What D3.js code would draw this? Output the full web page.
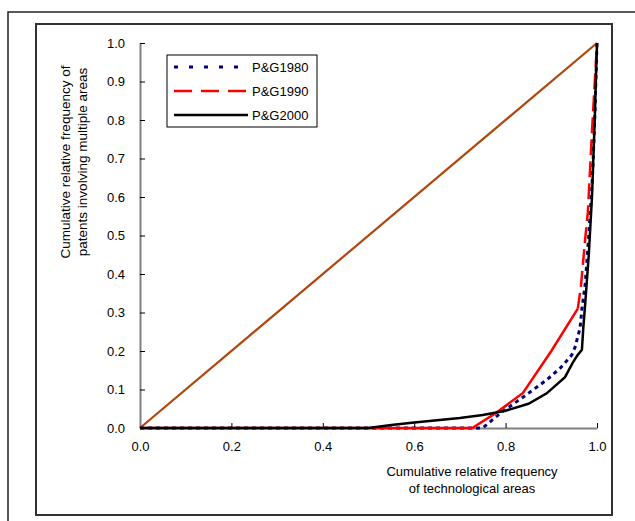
<!DOCTYPE html>
<html><head><meta charset="utf-8">
<script src="https://cdn.jsdelivr.net/npm/d3@7"></script>
<style>body{margin:0;background:#fff}svg{display:block}text{font-family:"Liberation Sans",Arial,sans-serif;fill:#000}</style>
</head><body>
<script>
// Data (x = cumulative relative frequency of technological areas, y = of patents)
const seriesNames = ["P&G1980", "P&G1990", "P&G2000"];
const pg1980 = [[0,0],[0.75,0],[0.79,0.04],[0.838,0.08],[0.89,0.125],[0.92,0.156],[0.945,0.19],[0.952,0.21],[0.963,0.26],[0.967,0.31],[0.974,0.37],[0.982,0.5],[0.99,0.65],[0.995,0.8],[1,1]];
const pg1990 = [[0,0],[0.727,0],[0.78,0.04],[0.838,0.091],[0.9,0.2],[0.958,0.31],[0.965,0.37],[0.974,0.49],[0.98,0.56],[0.989,0.77],[1,1]];
const pg2000 = [[0,0],[0.5,0],[0.55,0.008],[0.6,0.014],[0.7,0.026],[0.75,0.034],[0.8,0.045],[0.85,0.063],[0.89,0.09],[0.93,0.132],[0.947,0.17],[0.958,0.19],[0.967,0.203],[0.97,0.26],[0.974,0.32],[0.982,0.45],[0.989,0.6],[0.995,0.8],[1,1]];
const equality = [[0,0],[1,1]];
const xTicks = [0, 0.2, 0.4, 0.6, 0.8, 1.0];
const yTicks = [0, 0.1, 0.2, 0.3, 0.4, 0.5, 0.6, 0.7, 0.8, 0.9, 1.0];
const xTitle = ["Cumulative relative frequency", "of technological areas"];
const yTitle = ["Cumulative relative frequency of", "patents involving multiple areas"];

const W = 635, H = 521;
const svg = d3.select("body").append("svg").attr("width", W).attr("height", H);

// frames
svg.append("rect").attr("x", 8).attr("y", 12).attr("width", 700).attr("height", 600)
  .attr("fill", "none").attr("stroke", "#222").attr("stroke-width", 1.5);
svg.append("rect").attr("x", 36).attr("y", 24).attr("width", 576).attr("height", 491)
  .attr("fill", "none").attr("stroke", "#333").attr("stroke-width", 2);

const x = d3.scaleLinear().domain([0, 1]).range([140, 597]);
const y = d3.scaleLinear().domain([0, 1]).range([428, 43]);

// axes
const gx = svg.append("g").attr("transform", "translate(0,428)")
  .call(d3.axisBottom(x).tickValues(xTicks).tickFormat(d3.format(".1f")).tickSizeInner(-5).tickSizeOuter(0).tickPadding(14));
const gy = svg.append("g").attr("transform", "translate(140,0)")
  .call(d3.axisLeft(y).tickValues(yTicks).tickFormat(d3.format(".1f")).tickSizeInner(-5).tickSizeOuter(0).tickPadding(15));
[gx, gy].forEach(g => {
  g.select(".domain").attr("stroke", "#808080").attr("stroke-width", 2);
  g.selectAll(".tick line").attr("stroke", "#000").attr("stroke-width", 1);
  g.selectAll(".tick text").attr("font-size", 13).attr("font-family", "Liberation Sans, Arial, sans-serif").attr("fill", "#000");
});

const line = d3.line().x(d => x(d[0])).y(d => y(d[1]));
svg.append("path").datum(equality).attr("d", line).attr("fill", "none").attr("stroke", "#B0470E").attr("stroke-width", 2.2);
svg.append("path").datum(pg1980).attr("d", line).attr("fill", "none").attr("stroke", "#000080").attr("stroke-width", 3).attr("stroke-dasharray", "4,4");
// P&G1990: dense lower part renders solid, steep upper part dashed (as in the original)
const splitIdx = 5;
svg.append("path").datum(pg1990.slice(0, splitIdx + 1)).attr("d", line).attr("fill", "none").attr("stroke", "#FF0000").attr("stroke-width", 2.5);
svg.append("path").datum(pg1990.slice(splitIdx)).attr("d", line).attr("fill", "none").attr("stroke", "#FF0000").attr("stroke-width", 2.5).attr("stroke-dasharray", "16,6");
svg.append("path").datum(pg2000).attr("d", line).attr("fill", "none").attr("stroke", "#000").attr("stroke-width", 2.5);

// titles
const xt = svg.append("text").attr("text-anchor", "middle").attr("font-size", 13);
xTitle.forEach((t, i) => xt.append("tspan").attr("x", 472).attr("y", 476 + i * 17).text(t));
const yt = svg.append("text").attr("text-anchor", "middle").attr("font-size", 13.5).attr("transform", "translate(0,162) rotate(-90)");
yTitle.forEach((t, i) => yt.append("tspan").attr("x", 0).attr("y", 70 + i * 17).text(t));

// legend
const lg = svg.append("g");
lg.append("rect").attr("x", 167).attr("y", 55).attr("width", 150).attr("height", 72)
  .attr("fill", "#fff").attr("stroke", "#000").attr("stroke-width", 1);
const legStyles = [
  {c: "#000080", w: 3, d: "4,11"},
  {c: "#FF0000", w: 2.5, d: "18,9"},
  {c: "#000", w: 2.5, d: null}
];
seriesNames.forEach((n, i) => {
  const yy = 67 + i * 24;
  const l = lg.append("line").attr("x1", 174).attr("x2", 248).attr("y1", yy).attr("y2", yy)
    .attr("stroke", legStyles[i].c).attr("stroke-width", legStyles[i].w);
  if (legStyles[i].d) l.attr("stroke-dasharray", legStyles[i].d);
  lg.append("text").attr("x", 252).attr("y", yy + 5).attr("font-size", 13).text(n);
});
</script>
</body></html>
